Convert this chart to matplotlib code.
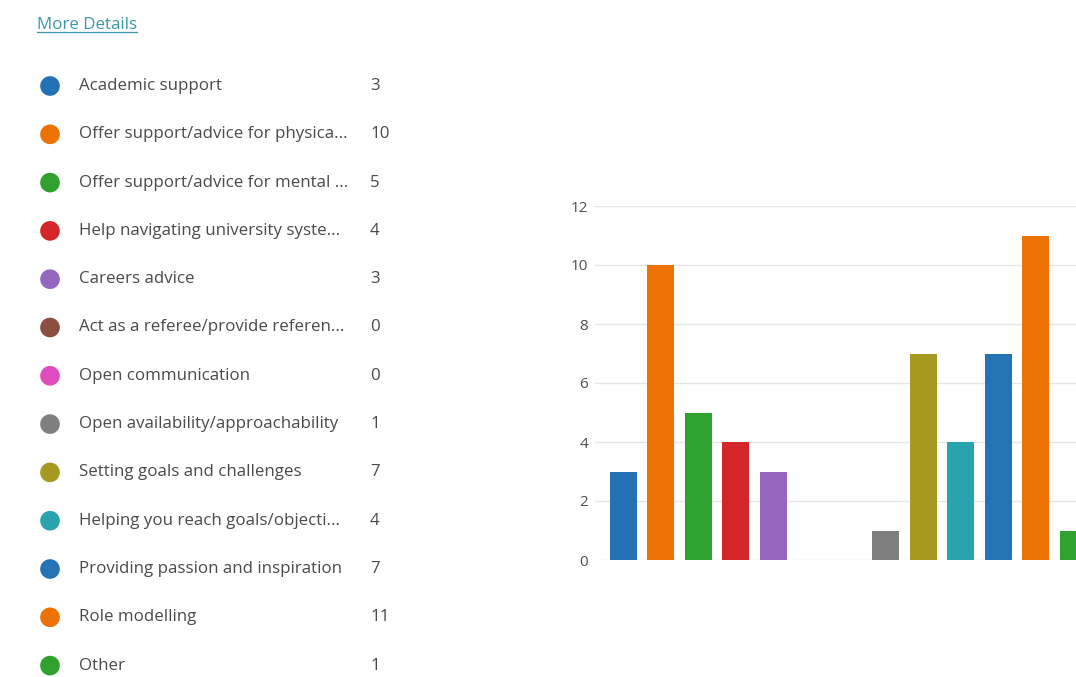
import matplotlib
matplotlib.use("Agg")
import matplotlib.pyplot as plt
from matplotlib.lines import Line2D

plt.rcParams['font.family'] = ['Open Sans', 'DejaVu Sans']

# legend labels as shown (truncated in the source UI)
labels = [
    "Academic support",
    "Offer support/advice for physica...",
    "Offer support/advice for mental ...",
    "Help navigating university syste...",
    "Careers advice",
    "Act as a referee/provide referen...",
    "Open communication",
    "Open availability/approachability",
    "Setting goals and challenges",
    "Helping you reach goals/objecti...",
    "Providing passion and inspiration",
    "Role modelling",
    "Other",
]
counts = [3, 10, 5, 4, 3, 0, 0, 1, 7, 4, 7, 11, 1]
colors = ["#2372b5", "#ec7205", "#2ea12f", "#d42529", "#9466bd", "#8c4f3f",
          "#df4cbd", "#7f7f7f", "#a5991f", "#29a3ae", "#2373b5", "#ec7205", "#2ea12f"]
yticks = [0, 2, 4, 6, 8, 10, 12]

W, H = 1076, 677
fig = plt.figure(figsize=(W / 100, H / 100), dpi=100)
fig.patch.set_facecolor("white")

# ---- legend list on the left ----
axl = fig.add_axes([0, 0, 0.5, 1])
axl.set_xlim(0, W * 0.5)
row0, step = 86, 48.3
axl.set_ylim((H - row0) / step, -row0 / step)
axl.axis("off")
rows = list(range(len(labels)))
axl.scatter([50] * len(rows), rows, s=200, c=colors, linewidths=0)
for i, (lab, n) in enumerate(zip(labels, counts)):
    axl.text(79, i, lab, fontsize=12.2, color="#4a4a4a", va="center", ha="left")
    axl.text(370, i, str(n), fontsize=12.2, color="#4a4a4a", va="center", ha="left")

md = fig.text(37 / W, 1 - 25 / H, "More Details", fontsize=12.2, color="#3a98a6",
              va="center", ha="left")
fig.canvas.draw()
bb = md.get_window_extent()
fig.add_artist(Line2D([bb.x0 / W, bb.x1 / W], [(bb.y0 + 1) / H] * 2,
                      color="#3a98a6", lw=0.9, transform=fig.transFigure))

# ---- bar chart on the right (cut off at the right edge, as in the screenshot) ----
ax = fig.add_axes([595 / W, (H - 560) / H, 1 - 595 / W, (560 - 206) / H])
x = list(range(len(counts)))
ax.bar(x, counts, width=0.72, color=colors, zorder=3)
ax.set_xlim(-0.76, 12.07)
ax.set_ylim(0, 12)
ax.set_yticks(yticks)
ax.set_xticks([])
ax.grid(axis="y", color="#e6e6e6", lw=1, zorder=0)
ax.tick_params(axis="y", length=0, pad=5, labelsize=11, labelcolor="#4f4f4f")
for s in ax.spines.values():
    s.set_visible(False)
for lab in ax.get_yticklabels():
    lab.set_clip_on(False)

fig.savefig("out.png", dpi=100)
